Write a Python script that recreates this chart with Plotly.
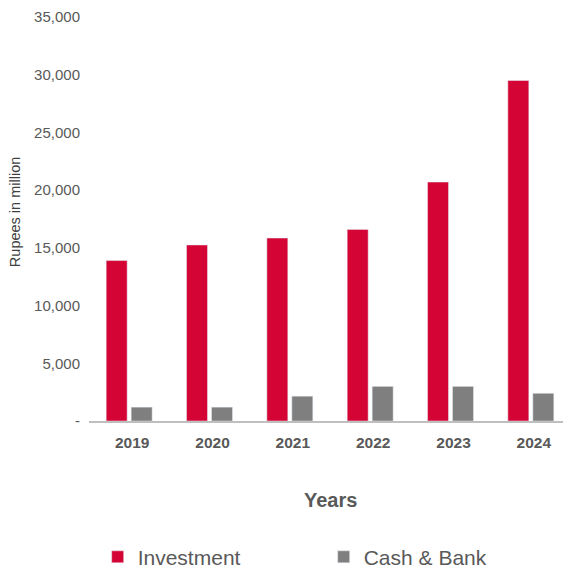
import plotly.graph_objects as go

years = ["2019", "2020", "2021", "2022", "2023", "2024"]
investment = [13900, 15250, 15850, 16600, 20700, 29500]
cash_bank = [1200, 1200, 2150, 3000, 3000, 2400]
tick_vals = [0, 5000, 10000, 15000, 20000, 25000, 30000, 35000]
tick_text = ["-", "5,000", "10,000", "15,000", "20,000", "25,000", "30,000", "35,000"]

FONT = "Liberation Sans, Arial, sans-serif"
TXT = "#595959"

fig = go.Figure()
fig.add_trace(go.Bar(x=years, y=investment, name="Investment", marker_color="#D40535"))
fig.add_trace(go.Bar(x=years, y=cash_bank, name="Cash & Bank", marker_color="#7F7F7F"))

fig.update_layout(
    width=563, height=562,
    margin=dict(l=81, r=0, t=9, b=149, autoexpand=False),
    plot_bgcolor="white", paper_bgcolor="white",
    barmode="group", bargap=0.378, bargroupgap=0.16,
    font=dict(family=FONT, color=TXT, size=13),
    showlegend=True,
    legend=dict(orientation="h", x=0.018, xanchor="left", y=-0.337, yanchor="middle",
                font=dict(size=21, color=TXT), entrywidth=181, entrywidthmode="pixels",
                traceorder="normal"),
    xaxis=dict(showgrid=False, showline=True, linecolor="#BFBFBF", linewidth=2,
               ticks="", ticklabelstandoff=6, ticklabelshift=3, automargin=False,
               tickfont=dict(size=15.5, color=TXT, family=FONT, weight="bold")),
    yaxis=dict(range=[0, 35000], showgrid=False, showline=False, zeroline=False,
               tickvals=tick_vals, ticktext=tick_text, ticks="", ticklabelstandoff=8,
               ticklabeloverflow="allow", automargin=False,
               tickfont=dict(size=15, color=TXT)),
    annotations=[
        dict(text="<b>Years</b>", x=0.5, xref="paper", y=-0.1955, yref="paper",
             xanchor="center", yanchor="middle", showarrow=False,
             font=dict(size=20, color=TXT, family=FONT)),
        dict(text="Rupees in million", x=-0.1535, xref="paper", y=0.517, yref="paper",
             xanchor="center", yanchor="middle", showarrow=False, textangle=-90,
             font=dict(size=14.5, color="#404040", family=FONT)),
    ],
)

fig.write_html("out.html")
